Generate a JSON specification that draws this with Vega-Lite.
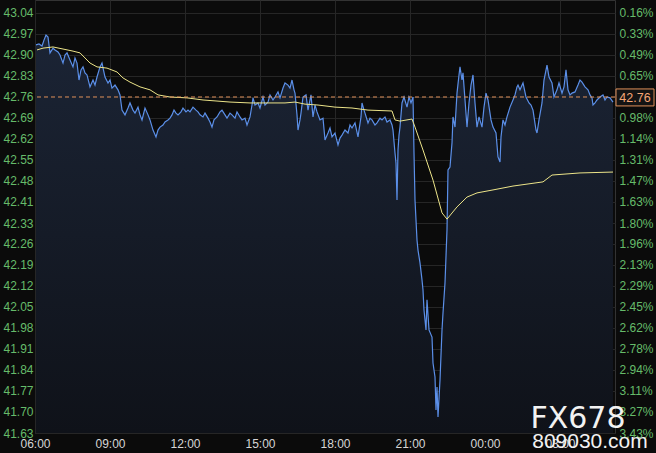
{
  "$schema": "https://vega.github.io/schema/vega-lite/v6.json",
  "width": 580,
  "height": 433,
  "autosize": {"type": "none"},
  "padding": {"left": 35, "right": 41, "top": 0, "bottom": 20},
  "background": "#0b0b0b",
  "config": {
    "view": {"stroke": "#333333", "fill": "#0b0b0b"},
    "font": "Liberation Sans",
    "axis": {"gridColor": "#262626", "gridWidth": 1, "domain": false, "ticks": false, "labelFont": "Liberation Sans", "labelFontSize": 12, "title": null}
  },
  "datasets": {
    "price": [
      {"h":0.04,"p":42.933},{"h":0.16,"p":42.936},{"h":0.28,"p":42.929},{"h":0.36,"p":42.949},{"h":0.44,"p":42.966},{"h":0.52,"p":42.959},{"h":0.60,"p":42.906},{"h":0.72,"p":42.922},{"h":0.80,"p":42.916},{"h":0.92,"p":42.909},{"h":1.00,"p":42.899},{"h":1.12,"p":42.872},{"h":1.20,"p":42.899},{"h":1.28,"p":42.906},{"h":1.40,"p":42.882},{"h":1.52,"p":42.859},{"h":1.60,"p":42.889},{"h":1.68,"p":42.872},{"h":1.76,"p":42.815},{"h":1.84,"p":42.849},{"h":1.92,"p":42.859},{"h":2.00,"p":42.839},{"h":2.08,"p":42.832},{"h":2.20,"p":42.792},{"h":2.32,"p":42.815},{"h":2.40,"p":42.798},{"h":2.48,"p":42.825},{"h":2.60,"p":42.859},{"h":2.68,"p":42.872},{"h":2.80,"p":42.825},{"h":2.92,"p":42.805},{"h":3.00,"p":42.815},{"h":3.08,"p":42.788},{"h":3.20,"p":42.798},{"h":3.32,"p":42.782},{"h":3.40,"p":42.765},{"h":3.48,"p":42.714},{"h":3.60,"p":42.698},{"h":3.72,"p":42.721},{"h":3.80,"p":42.738},{"h":3.92,"p":42.714},{"h":4.00,"p":42.704},{"h":4.12,"p":42.724},{"h":4.20,"p":42.698},{"h":4.28,"p":42.681},{"h":4.40,"p":42.721},{"h":4.52,"p":42.698},{"h":4.60,"p":42.681},{"h":4.72,"p":42.647},{"h":4.84,"p":42.624},{"h":4.92,"p":42.647},{"h":5.00,"p":42.657},{"h":5.12,"p":42.664},{"h":5.20,"p":42.674},{"h":5.32,"p":42.681},{"h":5.40,"p":42.687},{"h":5.48,"p":42.698},{"h":5.56,"p":42.714},{"h":5.64,"p":42.704},{"h":5.72,"p":42.698},{"h":5.84,"p":42.708},{"h":5.92,"p":42.721},{"h":6.04,"p":42.708},{"h":6.12,"p":42.714},{"h":6.20,"p":42.708},{"h":6.32,"p":42.724},{"h":6.44,"p":42.714},{"h":6.52,"p":42.708},{"h":6.60,"p":42.698},{"h":6.72,"p":42.691},{"h":6.80,"p":42.704},{"h":6.92,"p":42.687},{"h":7.00,"p":42.674},{"h":7.08,"p":42.657},{"h":7.16,"p":42.681},{"h":7.28,"p":42.691},{"h":7.40,"p":42.708},{"h":7.48,"p":42.714},{"h":7.60,"p":42.698},{"h":7.68,"p":42.687},{"h":7.80,"p":42.704},{"h":7.88,"p":42.698},{"h":8.00,"p":42.687},{"h":8.08,"p":42.708},{"h":8.20,"p":42.691},{"h":8.28,"p":42.681},{"h":8.40,"p":42.687},{"h":8.48,"p":42.664},{"h":8.60,"p":42.691},{"h":8.68,"p":42.731},{"h":8.72,"p":42.755},{"h":8.80,"p":42.731},{"h":8.92,"p":42.738},{"h":9.00,"p":42.721},{"h":9.12,"p":42.758},{"h":9.20,"p":42.731},{"h":9.32,"p":42.741},{"h":9.40,"p":42.765},{"h":9.52,"p":42.748},{"h":9.60,"p":42.758},{"h":9.72,"p":42.775},{"h":9.80,"p":42.755},{"h":9.92,"p":42.788},{"h":10.00,"p":42.805},{"h":10.12,"p":42.798},{"h":10.20,"p":42.788},{"h":10.28,"p":42.815},{"h":10.36,"p":42.782},{"h":10.40,"p":42.771},{"h":10.48,"p":42.698},{"h":10.52,"p":42.647},{"h":10.60,"p":42.681},{"h":10.64,"p":42.704},{"h":10.72,"p":42.758},{"h":10.84,"p":42.765},{"h":10.92,"p":42.714},{"h":11.00,"p":42.748},{"h":11.04,"p":42.765},{"h":11.12,"p":42.691},{"h":11.20,"p":42.731},{"h":11.28,"p":42.708},{"h":11.40,"p":42.681},{"h":11.52,"p":42.687},{"h":11.60,"p":42.614},{"h":11.72,"p":42.637},{"h":11.80,"p":42.654},{"h":11.88,"p":42.624},{"h":12.00,"p":42.637},{"h":12.12,"p":42.597},{"h":12.20,"p":42.620},{"h":12.28,"p":42.630},{"h":12.40,"p":42.647},{"h":12.52,"p":42.637},{"h":12.60,"p":42.664},{"h":12.68,"p":42.654},{"h":12.80,"p":42.671},{"h":12.92,"p":42.624},{"h":13.04,"p":42.691},{"h":13.08,"p":42.738},{"h":13.16,"p":42.714},{"h":13.20,"p":42.704},{"h":13.32,"p":42.671},{"h":13.40,"p":42.687},{"h":13.48,"p":42.681},{"h":13.60,"p":42.664},{"h":13.68,"p":42.671},{"h":13.80,"p":42.687},{"h":13.88,"p":42.681},{"h":14.00,"p":42.691},{"h":14.08,"p":42.674},{"h":14.20,"p":42.681},{"h":14.28,"p":42.664},{"h":14.32,"p":42.647},{"h":14.40,"p":42.570},{"h":14.44,"p":42.536},{"h":14.48,"p":42.412},{"h":14.52,"p":42.580},{"h":14.56,"p":42.630},{"h":14.60,"p":42.657},{"h":14.68,"p":42.738},{"h":14.76,"p":42.758},{"h":14.88,"p":42.724},{"h":14.96,"p":42.758},{"h":15.04,"p":42.738},{"h":15.12,"p":42.758},{"h":15.16,"p":42.570},{"h":15.20,"p":42.412},{"h":15.28,"p":42.278},{"h":15.32,"p":42.244},{"h":15.40,"p":42.201},{"h":15.48,"p":42.144},{"h":15.52,"p":42.110},{"h":15.56,"p":42.043},{"h":15.64,"p":41.976},{"h":15.68,"p":42.077},{"h":15.76,"p":41.976},{"h":15.88,"p":41.952},{"h":15.92,"p":41.865},{"h":16.00,"p":41.818},{"h":16.04,"p":41.707},{"h":16.08,"p":41.784},{"h":16.12,"p":41.684},{"h":16.20,"p":41.808},{"h":16.28,"p":41.976},{"h":16.32,"p":42.033},{"h":16.40,"p":42.134},{"h":16.48,"p":42.312},{"h":16.52,"p":42.513},{"h":16.60,"p":42.523},{"h":16.68,"p":42.604},{"h":16.72,"p":42.691},{"h":16.80,"p":42.657},{"h":16.88,"p":42.771},{"h":16.96,"p":42.832},{"h":17.00,"p":42.859},{"h":17.08,"p":42.815},{"h":17.12,"p":42.839},{"h":17.20,"p":42.748},{"h":17.28,"p":42.657},{"h":17.36,"p":42.738},{"h":17.44,"p":42.798},{"h":17.48,"p":42.815},{"h":17.52,"p":42.832},{"h":17.60,"p":42.738},{"h":17.68,"p":42.657},{"h":17.76,"p":42.691},{"h":17.88,"p":42.657},{"h":17.96,"p":42.724},{"h":18.04,"p":42.771},{"h":18.12,"p":42.748},{"h":18.24,"p":42.681},{"h":18.32,"p":42.657},{"h":18.44,"p":42.637},{"h":18.52,"p":42.557},{"h":18.60,"p":42.540},{"h":18.64,"p":42.624},{"h":18.72,"p":42.681},{"h":18.80,"p":42.664},{"h":18.88,"p":42.691},{"h":19.00,"p":42.724},{"h":19.12,"p":42.748},{"h":19.20,"p":42.765},{"h":19.28,"p":42.792},{"h":19.32,"p":42.798},{"h":19.40,"p":42.782},{"h":19.52,"p":42.805},{"h":19.64,"p":42.758},{"h":19.76,"p":42.738},{"h":19.84,"p":42.731},{"h":19.92,"p":42.714},{"h":20.04,"p":42.647},{"h":20.08,"p":42.637},{"h":20.16,"p":42.681},{"h":20.28,"p":42.738},{"h":20.36,"p":42.815},{"h":20.48,"p":42.865},{"h":20.56,"p":42.825},{"h":20.68,"p":42.805},{"h":20.76,"p":42.758},{"h":20.88,"p":42.782},{"h":20.96,"p":42.805},{"h":21.08,"p":42.771},{"h":21.16,"p":42.792},{"h":21.24,"p":42.849},{"h":21.32,"p":42.782},{"h":21.40,"p":42.765},{"h":21.48,"p":42.771},{"h":21.60,"p":42.775},{"h":21.72,"p":42.798},{"h":21.80,"p":42.815},{"h":21.88,"p":42.808},{"h":22.00,"p":42.792},{"h":22.12,"p":42.782},{"h":22.20,"p":42.765},{"h":22.28,"p":42.755},{"h":22.32,"p":42.731},{"h":22.40,"p":42.738},{"h":22.48,"p":42.748},{"h":22.60,"p":42.758},{"h":22.72,"p":42.765},{"h":22.80,"p":42.748},{"h":22.88,"p":42.758},{"h":23.00,"p":42.755},{"h":23.12,"p":42.741}
    ],
    "avg": [
      {"h":0.08,"p":42.916},{"h":0.32,"p":42.922},{"h":0.72,"p":42.926},{"h":1.12,"p":42.919},{"h":1.52,"p":42.912},{"h":1.80,"p":42.906},{"h":2.00,"p":42.889},{"h":2.20,"p":42.872},{"h":2.48,"p":42.859},{"h":2.88,"p":42.855},{"h":3.28,"p":42.842},{"h":3.52,"p":42.822},{"h":3.80,"p":42.808},{"h":4.20,"p":42.792},{"h":4.60,"p":42.782},{"h":4.92,"p":42.765},{"h":5.40,"p":42.758},{"h":6.08,"p":42.755},{"h":6.72,"p":42.748},{"h":7.80,"p":42.741},{"h":8.60,"p":42.738},{"h":9.12,"p":42.738},{"h":10.00,"p":42.738},{"h":10.40,"p":42.741},{"h":10.80,"p":42.734},{"h":11.32,"p":42.731},{"h":12.00,"p":42.724},{"h":12.68,"p":42.721},{"h":13.32,"p":42.714},{"h":14.28,"p":42.711},{"h":14.40,"p":42.681},{"h":14.60,"p":42.677},{"h":15.08,"p":42.684},{"h":15.20,"p":42.657},{"h":15.52,"p":42.580},{"h":15.92,"p":42.479},{"h":16.28,"p":42.369},{"h":16.48,"p":42.348},{"h":16.88,"p":42.389},{"h":17.28,"p":42.422},{"h":17.68,"p":42.436},{"h":18.32,"p":42.446},{"h":19.12,"p":42.459},{"h":20.32,"p":42.473},{"h":20.68,"p":42.496},{"h":21.80,"p":42.503},{"h":23.12,"p":42.506}
    ],
    "one": [{}]
  },
  "layer": [
    {
      "data": {"name": "price"},
      "mark": {"type": "area", "color": {"gradient": "linear", "x1": 0, "y1": 0, "x2": 0, "y2": 1, "stops": [{"offset": 0, "color": "#1b2435"}, {"offset": 1, "color": "#0f1219"}]}},
      "encoding": {
        "x": {"field": "h", "type": "quantitative", "scale": {"domain": [0, 23.2], "nice": false, "zero": false},
          "axis": {"values": [0, 3, 6, 9, 12, 15, 18, 21], "labelExpr": "['06:00','09:00','12:00','15:00','18:00','21:00','00:00','03:00'][round(datum.value/3)]", "labelColor": "#d6d6d6", "labelFlush": false, "labelPadding": 5, "grid": true}},
        "y": {"field": "p", "type": "quantitative", "scale": {"domain": [41.63, 43.0836], "nice": false, "zero": false},
          "axis": {"orient": "left", "values": [43.04, 42.9695, 42.899, 42.8285, 42.758, 42.6875, 42.617, 42.5465, 42.476, 42.4055, 42.3349, 42.2645, 42.194, 42.1235, 42.053, 41.9825, 41.912, 41.8415, 41.771, 41.7005, 41.63], "format": ".2f", "labelColor": "#66bb6a", "labelPadding": 2, "grid": true}},
        "y2": {"datum": 41.63}
      }
    },
    {
      "data": {"name": "price"},
      "mark": {"type": "line", "color": "#5b8fe8", "strokeWidth": 1.2},
      "encoding": {
        "x": {"field": "h", "type": "quantitative"},
        "y": {"field": "p", "type": "quantitative", "axis": null}
      }
    },
    {
      "data": {"name": "avg"},
      "mark": {"type": "line", "color": "#ece489", "strokeWidth": 1},
      "encoding": {
        "x": {"field": "h", "type": "quantitative"},
        "y": {"field": "p", "type": "quantitative",
          "axis": {"orient": "right", "values": [43.04, 42.9695, 42.899, 42.8285, 42.758, 42.6875, 42.617, 42.5465, 42.476, 42.4055, 42.3349, 42.2645, 42.194, 42.1235, 42.053, 41.9825, 41.912, 41.8415, 41.771, 41.7005, 41.63],
            "labelExpr": "{'43.04':'0.16%','42.97':'0.33%','42.90':'0.49%','42.83':'0.65%','42.76':'0.82%','42.69':'0.98%','42.62':'1.14%','42.55':'1.31%','42.48':'1.47%','42.41':'1.63%','42.33':'1.80%','42.26':'1.96%','42.19':'2.13%','42.12':'2.29%','42.05':'2.45%','41.98':'2.62%','41.91':'2.78%','41.84':'2.94%','41.77':'3.11%','41.70':'3.27%','41.63':'3.43%'}[format(datum.value,'.2f')]",
            "labelColor": "#66bb6a", "labelPadding": 4, "grid": false}}
      }
    },
    {
      "data": {"name": "one"},
      "mark": {"type": "rule", "color": "#e0905a", "strokeDash": [4, 3], "strokeWidth": 1},
      "encoding": {"y": {"datum": 42.758, "type": "quantitative", "axis": null}}
    },
    {
      "data": {"name": "one"},
      "mark": {"type": "rect", "fill": "#141414", "stroke": "#e0905a", "strokeWidth": 1},
      "encoding": {
        "x": {"datum": 23.24, "type": "quantitative"},
        "x2": {"datum": 24.76},
        "y": {"datum": 42.785, "type": "quantitative", "axis": null},
        "y2": {"datum": 42.728}
      }
    },
    {
      "data": {"name": "one"},
      "mark": {"type": "text", "color": "#f4a677", "fontSize": 12.5, "font": "Liberation Sans", "align": "center", "baseline": "middle", "text": "42.76"},
      "encoding": {
        "x": {"datum": 24.0, "type": "quantitative"},
        "y": {"datum": 42.756, "type": "quantitative", "axis": null}
      }
    },
    {
      "data": {"name": "one"},
      "mark": {"type": "text", "color": "#f2f2f2", "fontSize": 30, "font": "DejaVu Sans", "align": "center", "baseline": "alphabetic", "text": "FX678"},
      "encoding": {
        "x": {"datum": 21.72, "type": "quantitative"},
        "y": {"datum": 41.647, "type": "quantitative", "axis": null}
      }
    },
    {
      "data": {"name": "one"},
      "mark": {"type": "text", "color": "#f2f2f2", "fontSize": 21, "font": "Liberation Sans", "align": "center", "baseline": "alphabetic", "text": "809030.com"},
      "encoding": {
        "x": {"datum": 22.2, "type": "quantitative"},
        "y": {"datum": 41.58, "type": "quantitative", "axis": null}
      }
    }
  ],
  "resolve": {"axis": {"y": "independent"}}
}
